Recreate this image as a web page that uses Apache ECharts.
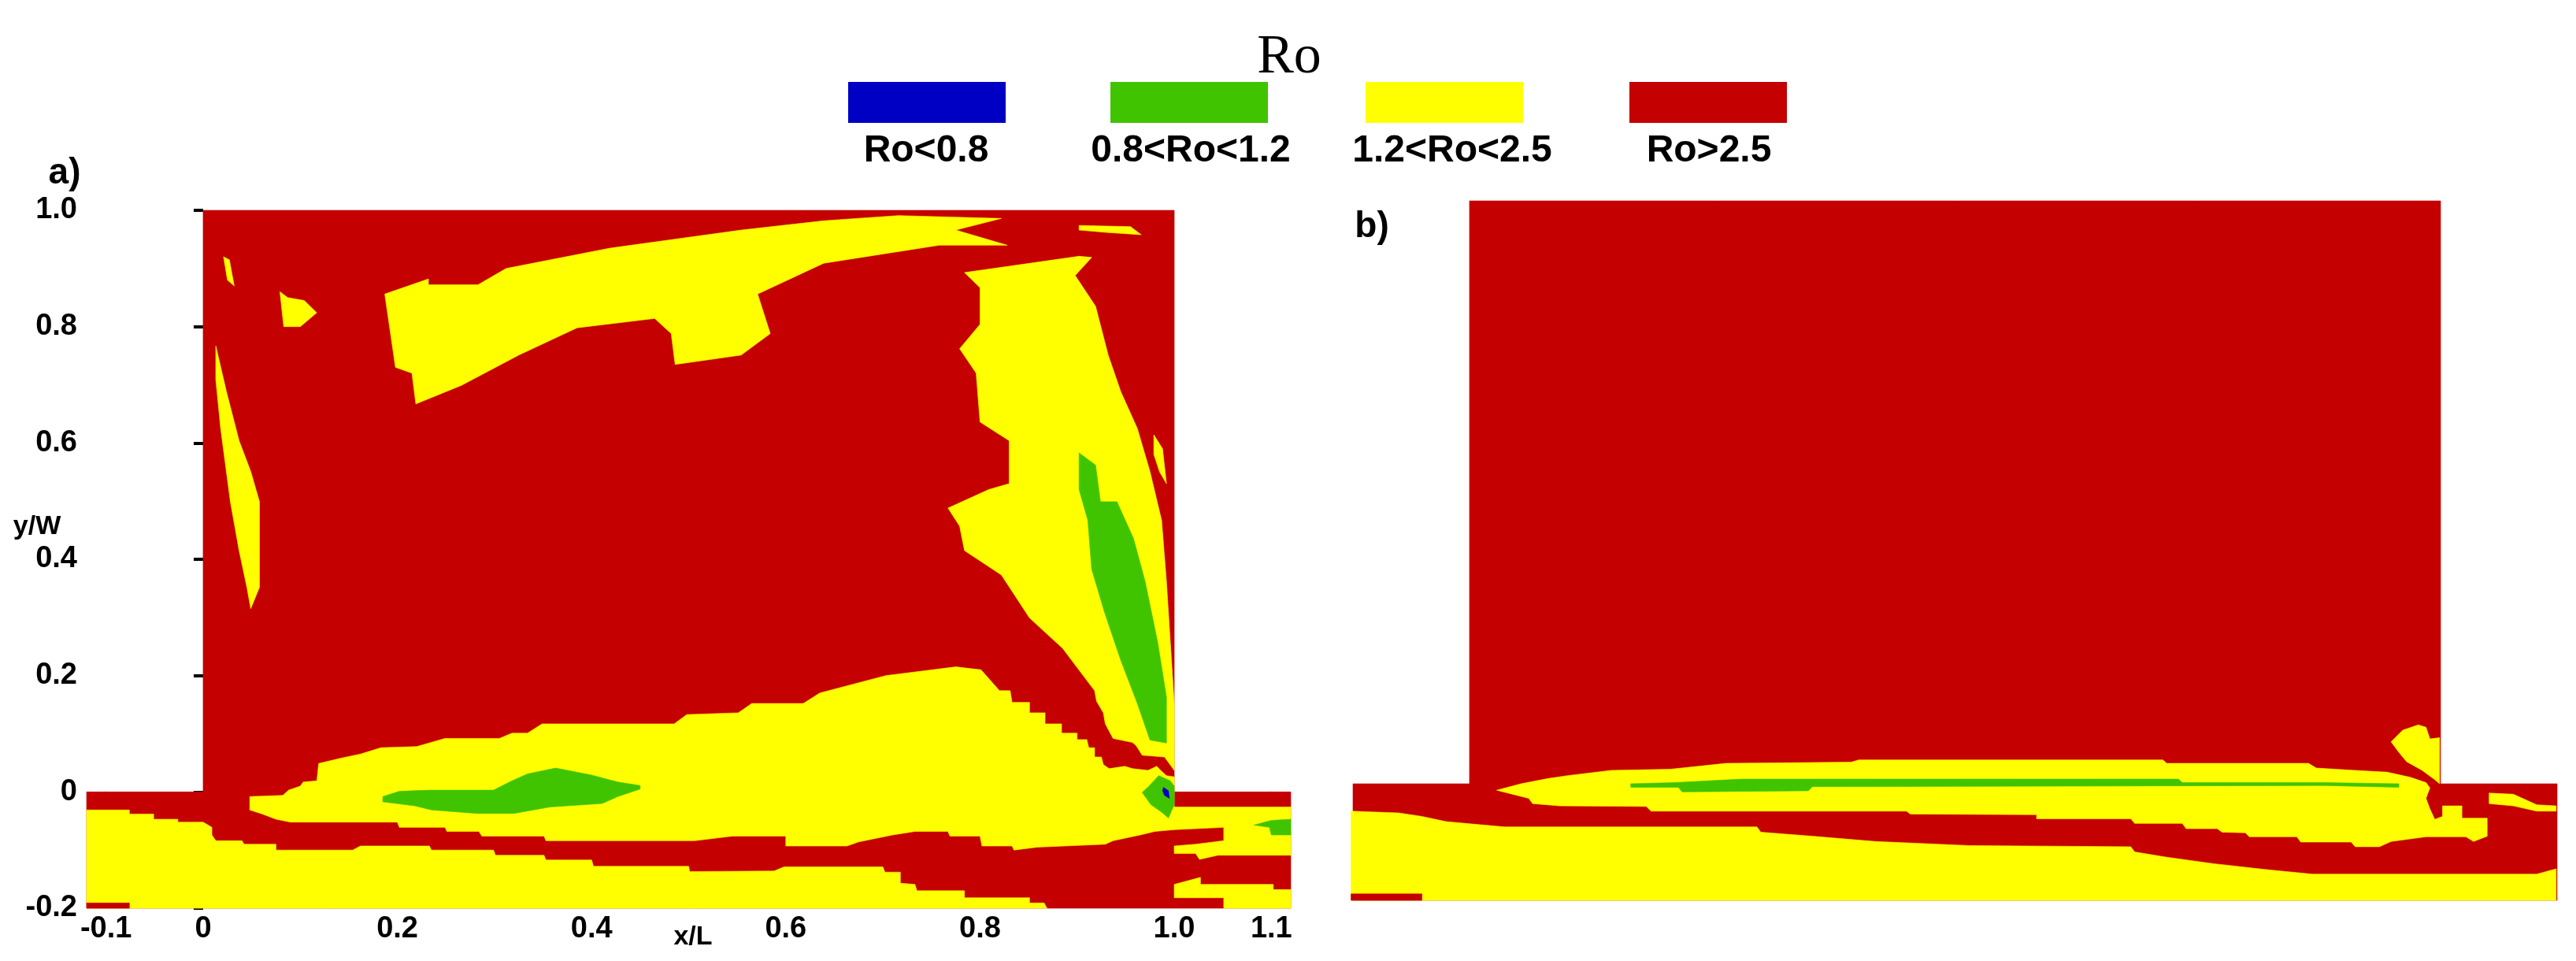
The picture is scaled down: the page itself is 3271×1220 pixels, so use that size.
<!DOCTYPE html>
<html>
<head>
<meta charset="utf-8">
<script src="https://cdn.jsdelivr.net/npm/echarts@6/dist/echarts.min.js"></script>
<style>
  html, body { margin: 0; padding: 0; background: #fff; }
  #chart { width: 3271px; height: 1220px; }
</style>
</head>
<body>
<div id="chart"></div>
<script>
// Ro regions, digitised in (x/L, y/W)
const X_TICKS = [-0.1, 0, 0.2, 0.4, 0.6, 0.8, 1.0, 1.1];
const Y_TICKS = [-0.2, 0, 0.2, 0.4, 0.6, 0.8, 1.0];
const LEGEND_LABELS = ['Ro<0.8', '0.8<Ro<1.2', '1.2<Ro<2.5', 'Ro>2.5'];

const DOMAIN = [[-0.12,-0.2],[1.12,-0.2],[1.12,0],[1,0],[1,1],[0,1],[0,0],[-0.12,0]];

// panel a
const A_YELLOW_TOP = [[0.187,0.856],[0.232,0.882],[0.232,0.872],[0.283,0.872],[0.312,0.900],[0.419,0.935],[0.554,0.966],[0.639,0.982],[0.716,0.991],[0.822,0.986],[0.775,0.966],[0.828,0.940],[0.758,0.940],[0.639,0.909],[0.571,0.856],[0.584,0.788],[0.554,0.751],[0.486,0.735],[0.482,0.788],[0.465,0.814],[0.385,0.798],[0.325,0.751],[0.266,0.699],[0.219,0.667],[0.215,0.720],[0.198,0.730]];
const A_YELLOW_SPOT1 = [[0.902,0.974],[0.955,0.972],[0.966,0.958],[0.930,0.962],[0.902,0.966]];
const A_YELLOW_SPOT2 = [[0.079,0.860],[0.087,0.850],[0.104,0.845],[0.117,0.824],[0.100,0.800],[0.083,0.800]];
const A_YELLOW_SPOT3 = [[0.021,0.920],[0.027,0.915],[0.032,0.870],[0.025,0.880]];
const A_YELLOW_LEFT = [[0.013,0.767],[0.024,0.688],[0.037,0.604],[0.049,0.551],[0.058,0.499],[0.058,0.352],[0.049,0.315],[0.045,0.352],[0.037,0.415],[0.028,0.499],[0.018,0.625],[0.013,0.709]];
const A_YELLOW_LOW = [[0.048,-0.008],[0.082,-0.006],[0.088,0.003],[0.100,0.010],[0.103,0.017],[0.117,0.019],[0.119,0.049],[0.142,0.058],[0.162,0.065],[0.183,0.076],[0.220,0.078],[0.249,0.092],[0.305,0.092],[0.318,0.101],[0.334,0.101],[0.349,0.117],[0.485,0.117],[0.498,0.133],[0.551,0.136],[0.565,0.152],[0.618,0.152],[0.635,0.170],[0.703,0.200],[0.775,0.215],[0.801,0.210],[0.820,0.174],[0.831,0.174],[0.833,0.154],[0.851,0.154],[0.851,0.136],[0.867,0.136],[0.867,0.117],[0.884,0.117],[0.884,0.101],[0.900,0.101],[0.900,0.090],[0.910,0.090],[0.912,0.076],[0.918,0.076],[0.918,0.060],[0.925,0.060],[0.927,0.047],[0.933,0.040],[0.949,0.044],[0.957,0.040],[0.973,0.037],[0.982,0.044],[0.986,0.037],[0.992,0.028],[1.0,0.026],[1.0,-0.065],[0.980,-0.068],[0.965,-0.074],[0.937,-0.084],[0.929,-0.090],[0.859,-0.095],[0.835,-0.100],[0.833,-0.093],[0.802,-0.093],[0.800,-0.076],[0.769,-0.076],[0.767,-0.068],[0.733,-0.068],[0.710,-0.074],[0.675,-0.086],[0.663,-0.093],[0.6,-0.093],[0.6,-0.076],[0.545,-0.076],[0.506,-0.084],[0.353,-0.084],[0.351,-0.076],[0.287,-0.076],[0.284,-0.068],[0.251,-0.068],[0.249,-0.061],[0.202,-0.061],[0.200,-0.052],[0.090,-0.052],[0.075,-0.047],[0.061,-0.038],[0.048,-0.031]];
const A_YELLOW_RIGHT = [[0.784,0.893],[0.800,0.867],[0.800,0.804],[0.779,0.762],[0.796,0.720],[0.800,0.636],[0.830,0.604],[0.830,0.530],[0.809,0.520],[0.767,0.488],[0.779,0.457],[0.784,0.415],[0.822,0.373],[0.851,0.299],[0.885,0.247],[0.918,0.174],[0.920,0.156],[0.927,0.136],[0.929,0.117],[0.937,0.092],[0.957,0.085],[0.961,0.079],[0.967,0.063],[0.990,0.060],[1.0,0.037],[1.0,0.152],[0.996,0.257],[0.992,0.362],[0.987,0.467],[0.975,0.551],[0.962,0.625],[0.945,0.688],[0.932,0.751],[0.919,0.835],[0.898,0.888],[0.915,0.919],[0.902,0.921]];
const A_YELLOW_SLIVER = [[0.979,0.614],[0.988,0.590],[0.992,0.530],[0.985,0.550],[0.979,0.580]];
const A_YELLOW_BOTTOM = [[-0.12,-0.031],[-0.076,-0.031],[-0.076,-0.038],[-0.051,-0.038],[-0.051,-0.047],[-0.026,-0.047],[-0.026,-0.052],[0,-0.052],[0.009,-0.061],[0.009,-0.074],[0.013,-0.084],[0.040,-0.084],[0.042,-0.090],[0.075,-0.090],[0.075,-0.100],[0.154,-0.100],[0.162,-0.093],[0.233,-0.093],[0.235,-0.100],[0.299,-0.100],[0.301,-0.109],[0.351,-0.109],[0.353,-0.117],[0.400,-0.117],[0.402,-0.128],[0.500,-0.128],[0.501,-0.137],[0.588,-0.136],[0.598,-0.129],[0.700,-0.129],[0.702,-0.138],[0.718,-0.138],[0.718,-0.157],[0.733,-0.159],[0.735,-0.170],[0.784,-0.170],[0.784,-0.182],[0.851,-0.182],[0.851,-0.191],[0.866,-0.191],[0.869,-0.2],[-0.12,-0.2]];
const A_YELLOW_EXIT1 = [[1.0,-0.026],[1.12,-0.026],[1.12,-0.109],[1.045,-0.109],[1.026,-0.116],[1.022,-0.106],[1.0,-0.106],[1.0,-0.093],[1.022,-0.090],[1.051,-0.084],[1.051,-0.061],[1.0,-0.065]];
const A_YELLOW_EXIT2 = [[1.0,-0.159],[1.027,-0.147],[1.027,-0.159],[1.102,-0.159],[1.102,-0.168],[1.12,-0.168],[1.12,-0.2],[1.051,-0.2],[1.051,-0.182],[1.0,-0.182]];
const A_RED_CORNER = [[-0.12,-0.191],[-0.076,-0.191],[-0.076,-0.2],[-0.12,-0.2]];
const A_GREEN_LOW = [[0.185,-0.008],[0.202,0.001],[0.233,0.003],[0.299,0.003],[0.318,0.019],[0.334,0.031],[0.363,0.041],[0.400,0.029],[0.427,0.017],[0.450,0.011],[0.450,0.005],[0.427,-0.008],[0.411,-0.020],[0.357,-0.026],[0.320,-0.037],[0.282,-0.037],[0.235,-0.031],[0.218,-0.024],[0.185,-0.017]];
const A_GREEN_RIGHT = [[0.902,0.583],[0.919,0.562],[0.924,0.499],[0.941,0.499],[0.958,0.436],[0.970,0.362],[0.983,0.257],[0.992,0.163],[0.992,0.084],[0.975,0.089],[0.962,0.152],[0.945,0.226],[0.928,0.310],[0.915,0.383],[0.911,0.467],[0.902,0.520]];
const A_GREEN_CORNER = [[0.984,0.028],[0.996,0.019],[1.0,0.010],[1.0,-0.022],[0.994,-0.045],[0.988,-0.036],[0.976,-0.022],[0.967,-0.001],[0.974,0.010]];
const A_GREEN_EXIT = [[1.082,-0.057],[1.100,-0.049],[1.12,-0.047],[1.12,-0.074],[1.100,-0.074],[1.098,-0.061]];
const A_BLUE = [[0.989,0.008],[0.994,0.002],[0.995,-0.011],[0.990,-0.006],[0.988,0.002]];

// panel b
const B_YELLOW_LENS = [[0.028,-0.011],[0.053,0],[0.081,0.009],[0.101,0.014],[0.146,0.023],[0.207,0.025],[0.264,0.035],[0.393,0.037],[0.401,0.041],[0.714,0.041],[0.718,0.035],[0.864,0.035],[0.872,0.027],[0.912,0.023],[0.945,0.020],[0.969,0.011],[0.985,0.002],[0.989,-0.007],[0.985,-0.025],[0.989,-0.043],[0.994,-0.061],[1.002,-0.056],[1.002,-0.038],[1.022,-0.038],[1.022,-0.059],[1.048,-0.059],[1.048,-0.090],[1.034,-0.099],[1.026,-0.091],[0.985,-0.091],[0.949,-0.099],[0.937,-0.108],[0.912,-0.108],[0.908,-0.100],[0.856,-0.100],[0.852,-0.091],[0.803,-0.091],[0.799,-0.084],[0.775,-0.083],[0.770,-0.077],[0.738,-0.077],[0.734,-0.068],[0.685,-0.068],[0.681,-0.060],[0.584,-0.060],[0.584,-0.053],[0.454,-0.052],[0.450,-0.047],[0.187,-0.047],[0.182,-0.039],[0.093,-0.038],[0.065,-0.034],[0.061,-0.025]];
const B_YELLOW_WALL = [[0.949,0.072],[0.961,0.092],[0.977,0.101],[0.985,0.097],[0.989,0.077],[0.999,0.079],[0.999,0],[0.994,0.007],[0.981,0.023],[0.965,0.038],[0.957,0.054]];
const B_YELLOW_BOTTOM = [[-0.122,-0.047],[-0.073,-0.050],[-0.049,-0.056],[-0.024,-0.065],[0.036,-0.074],[0.296,-0.074],[0.300,-0.083],[0.353,-0.090],[0.418,-0.099],[0.515,-0.106],[0.681,-0.108],[0.685,-0.117],[0.718,-0.126],[0.766,-0.137],[0.819,-0.147],[0.868,-0.155],[1.099,-0.155],[1.119,-0.146],[1.119,-0.2],[-0.122,-0.2]];
const B_YELLOW_EXIT = [[1.050,-0.016],[1.075,-0.018],[1.099,-0.036],[1.119,-0.038],[1.119,-0.047],[1.099,-0.047],[1.075,-0.038],[1.050,-0.034]];
const B_RED_CORNER = [[-0.122,-0.189],[-0.049,-0.189],[-0.049,-0.2],[-0.122,-0.2]];
const B_GREEN = [[0.166,0],[0.211,0.002],[0.280,0.008],[0.730,0.008],[0.734,0.002],[0.880,0.002],[0.957,0],[0.957,-0.006],[0.880,-0.003],[0.353,-0.005],[0.349,-0.012],[0.219,-0.014],[0.215,-0.006],[0.166,-0.006]];

const RED = '#c40000', YELLOW = '#ffff00', GREEN = '#40c400', BLUE = '#0000c4';
const SANS = '"Liberation Sans Narrow", "Liberation Sans", Arial';

function polySeries(grid, color, polys) {
  return {
    type: 'custom',
    xAxisIndex: grid, yAxisIndex: grid,
    data: polys.map((p, i) => [i]),
    silent: true,
    renderItem: (params, api) => ({
      type: 'polygon',
      shape: { points: polys[params.dataIndex].map(pt => api.coord(pt)) },
      style: { fill: color, stroke: color, lineWidth: 0.6 }
    })
  };
}

const chart = echarts.init(document.getElementById('chart'));
const tickFmt = v => (Math.abs(v) < 1e-9 ? '0' : v.toFixed(1));
const labelFont = { fontFamily: SANS, fontWeight: 'bold', fontSize: 38, color: '#000' };

function xAxis(grid, show) {
  return {
    type: 'value', gridIndex: grid, min: -0.12, max: 1.12,
    splitLine: { show: false }, axisLine: { show: false },
    axisTick: { show: show, length: 8, lineStyle: { color: '#000', width: 3 }, customValues: X_TICKS },
    axisLabel: Object.assign({ show: show, margin: 8, formatter: tickFmt, customValues: X_TICKS }, labelFont)
  };
}
function yAxis(grid, show) {
  return {
    type: 'value', gridIndex: grid, min: -0.2, max: 1.0,
    splitLine: { show: false }, axisLine: { show: false },
    axisTick: { show: show, length: 12, lineStyle: { color: '#000', width: 4 }, customValues: Y_TICKS },
    axisLabel: Object.assign({ show: show, margin: 12, formatter: tickFmt, customValues: Y_TICKS }, labelFont)
  };
}

const legendColors = [BLUE, GREEN, YELLOW, RED];
const legendBoxX = [1077, 1410, 1734, 2069];
const legendTextX = [1176, 1512, 1844, 2170];
const graphics = [];
legendColors.forEach((c, i) => {
  graphics.push({ type: 'rect', left: legendBoxX[i], top: 104, shape: { width: 200, height: 52 }, style: { fill: c } });
  graphics.push({ type: 'text', x: legendTextX[i], y: 192, style: { text: LEGEND_LABELS[i], fill: '#000', font: 'bold 48px ' + SANS, align: 'center', verticalAlign: 'middle' } });
});
graphics.push({ type: 'text', x: 1637, y: 74, style: { text: 'Ro', fill: '#000', font: '70px "Liberation Serif", serif', align: 'center', verticalAlign: 'middle' } });
graphics.push({ type: 'text', x: 82, y: 220, style: { text: 'a)', fill: '#000', font: 'bold 46px ' + SANS, align: 'center', verticalAlign: 'middle' } });
graphics.push({ type: 'text', x: 1742, y: 288, style: { text: 'b)', fill: '#000', font: 'bold 46px ' + SANS, align: 'center', verticalAlign: 'middle' } });
graphics.push({ type: 'text', x: 880, y: 1190, style: { text: 'x/L', fill: '#000', font: 'bold 34px ' + SANS, align: 'center', verticalAlign: 'middle' } });
graphics.push({ type: 'text', x: 47, y: 669, style: { text: 'y/W', fill: '#000', font: 'bold 34px ' + SANS, align: 'center', verticalAlign: 'middle' } });

chart.setOption({
  animation: false,
  backgroundColor: '#fff',
  grid: [
    { left: 110, top: 267, width: 1529, height: 886 },
    { left: 1718, top: 255, width: 1529, height: 888 }
  ],
  xAxis: [xAxis(0, true), xAxis(1, false)],
  yAxis: [yAxis(0, true), yAxis(1, false)],
  graphic: graphics,
  series: [
    polySeries(0, RED, [DOMAIN]),
    polySeries(0, YELLOW, [A_YELLOW_TOP, A_YELLOW_SPOT1, A_YELLOW_SPOT2, A_YELLOW_SPOT3, A_YELLOW_LEFT, A_YELLOW_LOW, A_YELLOW_RIGHT, A_YELLOW_SLIVER, A_YELLOW_BOTTOM, A_YELLOW_EXIT1, A_YELLOW_EXIT2]),
    polySeries(0, RED, [A_RED_CORNER]),
    polySeries(0, GREEN, [A_GREEN_LOW, A_GREEN_RIGHT, A_GREEN_CORNER, A_GREEN_EXIT]),
    polySeries(0, BLUE, [A_BLUE]),
    polySeries(1, RED, [DOMAIN]),
    polySeries(1, YELLOW, [B_YELLOW_LENS, B_YELLOW_WALL, B_YELLOW_BOTTOM, B_YELLOW_EXIT]),
    polySeries(1, RED, [B_RED_CORNER]),
    polySeries(1, GREEN, [B_GREEN])
  ]
});
</script>
</body>
</html>
